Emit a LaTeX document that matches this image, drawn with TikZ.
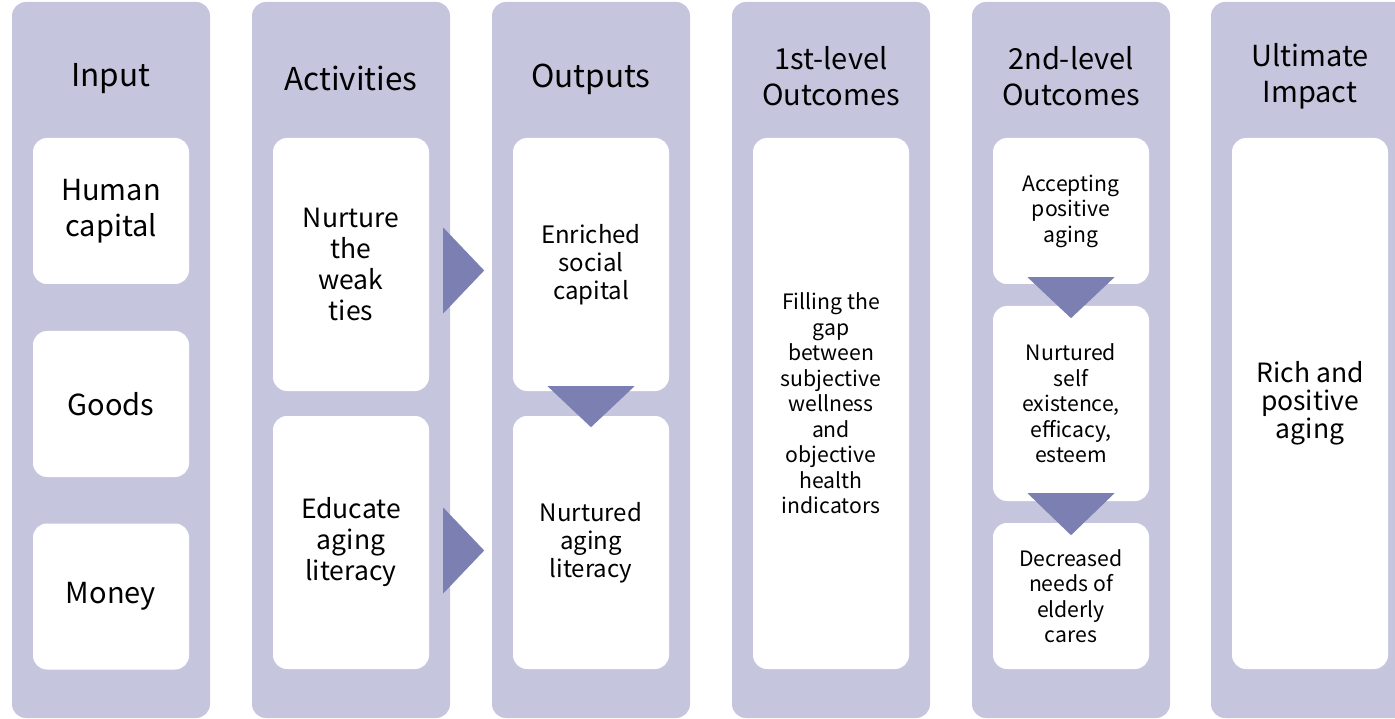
\documentclass[tikz,border=0pt]{standalone}
\usepackage{fontspec}
\newfontfamily\srcsans{Noto Sans CJK SC}
\usetikzlibrary{calc}
\definecolor{colfill}{RGB}{197,198,221}
\definecolor{trifill}{RGB}{124,127,177}

\begin{document}
\begin{tikzpicture}[x=1pt,y=-1pt,
	col/.style={fill=colfill, rounded corners=14pt, minimum width=198pt, minimum height=716pt, inner sep=0pt},
	box/.style={fill=white, rounded corners=14pt, minimum width=156pt, inner sep=0pt, align=center},
	head/.style={align=center, font=\srcsans\fontsize{31.5}{40}\selectfont},
	headtwo/.style={align=center, font=\srcsans\fontsize{29}{36}\selectfont},
	tone/.style={font=\srcsans\fontsize{29}{36}\selectfont},
	ttwo/.style={font=\srcsans\fontsize{26.5}{31}\selectfont},
	tthree/.style={font=\srcsans\fontsize{24}{28}\selectfont},
	tfour/.style={font=\srcsans\fontsize{21.2}{25.5}\selectfont},
	tsix/.style={font=\srcsans\fontsize{26.5}{28}\selectfont},
	tri/.style={fill=trifill}]
	
	\useasboundingbox (0,0) rectangle (1395,719);
	\clip (0,0) rectangle (1395,719);
	
	% columns
	\node[col] (input) at (111,360) {};
	\node[col] (activities) at (351,360) {};
	\node[col] (outputs) at (591,360) {};
	\node[col] (first) at (831,360) {};
	\node[col] (second) at (1071,360) {};
	\node[col] (impact) at (1310,360) {};
	
	% headers
	\node[head] (inputhd) at (111,79) {Input};
	\node[head] (activitieshd) at (351,79) {Activities};
	\node[head] (outputshd) at (591,79) {Outputs};
	\node[headtwo] (firsthd) at (831,76) {1st-level\\Outcomes};
	\node[headtwo] (secondhd) at (1071,76) {2nd-level\\Outcomes};
	\node[headtwo] (impacthd) at (1310,76) {Ultimate\\Impact};
	
	% input
	\node[box, tone, minimum height=146pt] (human) at (111,211) {Human\\capital};
	\node[box, tone, minimum height=146pt] (goods) at (111,404) {Goods};
	\node[box, tone, minimum height=146pt] (money) at (111,596.5) {Money};
	
	% activities
	\node[box, ttwo, minimum height=253pt] (nurture) at (351,264.5) {Nurture\\the\\weak\\ties};
	\node[box, ttwo, minimum height=253pt] (educate) at (351,542.5) {Educate\\aging\\literacy};
	
	% outputs
	\node[box, tthree, minimum height=253pt] (enriched) at (591,264.5) {Enriched\\social\\capital};
	\node[box, tthree, minimum height=253pt] (literacy) at (591,542.5) {Nurtured\\aging\\literacy};
	
	% 1st-level outcomes
	\node[box, tfour, minimum height=531pt] (gap) at (831,403.5) {Filling the\\gap\\between\\subjective\\wellness\\and\\objective\\health\\indicators};
	
	% 2nd-level outcomes
	\node[box, tfour, minimum height=146pt] (accept) at (1071,211) {Accepting\\positive\\aging};
	\node[box, tfour, minimum height=195pt] (self) at (1071,403.5) {Nurtured\\self\\existence,\\efficacy,\\esteem};
	\node[box, tfour, minimum height=146pt] (cares) at (1071,596) {Decreased\\needs of\\elderly\\cares};
	
	% ultimate impact
	\node[box, tsix, minimum height=531pt] (rich) at (1310,403.5) {Rich and\\positive\\aging};
	
	% arrows
	\fill[tri] ($(nurture.east)+(14,-37)$) -- ($(nurture.east)+(55,6)$) -- ($(nurture.east)+(14,49)$) -- cycle;
	\fill[tri] ($(educate.east)+(14,-35)$) -- ($(educate.east)+(55,8)$) -- ($(educate.east)+(14,51)$) -- cycle;
	\fill[tri] ($(enriched.south)+(-43.5,-5)$) -- ($(enriched.south)+(43.5,-5)$) -- ($(enriched.south)+(0,36)$) -- cycle;
	\fill[tri] ($(accept.south)+(-43.5,-7)$) -- ($(accept.south)+(43.5,-7)$) -- ($(accept.south)+(0,34)$) -- cycle;
	\fill[tri] ($(self.south)+(-43.5,-8)$) -- ($(self.south)+(43.5,-8)$) -- ($(self.south)+(0,34)$) -- cycle;
	
\end{tikzpicture}
\end{document}
